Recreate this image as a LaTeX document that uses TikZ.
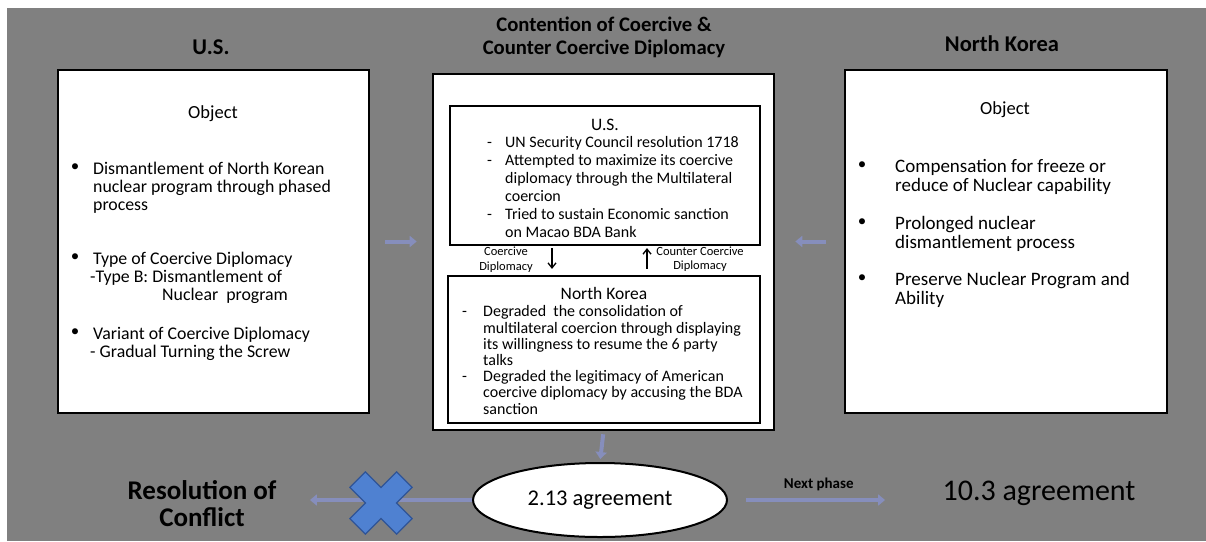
\documentclass[tikz,border=0pt]{standalone}
\usepackage{fontspec}
\setmainfont{Carlito}
\usetikzlibrary{shapes.geometric,arrows.meta}
\definecolor{slide}{RGB}{128,128,128}
\definecolor{faint}{RGB}{134,142,188}
\definecolor{swap}{RGB}{100,150,210}
\definecolor{nope}{RGB}{79,129,209}
\definecolor{nopeline}{RGB}{48,84,150}
\tikzstyle{panel}=[draw, line width=2.6pt, fill=white, inner sep=0pt]
\tikzstyle{movebox}=[draw, line width=2.2pt, fill=white, inner sep=0pt]
\tikzstyle{banner}=[font=\bfseries\fontsize{22.5}{31}\selectfont, align=center]
\tikzstyle{objtext}=[anchor=north west, align=left, inner sep=0pt, font=\fontsize{17.8}{18.2}\selectfont]
\tikzstyle{nkobjtext}=[anchor=north west, align=left, inner sep=0pt, font=\fontsize{19}{19}\selectfont]
\tikzstyle{movetext}=[anchor=north west, align=left, inner sep=0pt, font=\fontsize{16}{18}\selectfont]
\tikzstyle{nktext}=[anchor=north west, align=left, inner sep=0pt, font=\fontsize{16}{16.2}\selectfont]
\tikzstyle{smalltext}=[align=center, inner sep=0pt, font=\fontsize{12.5}{14.5}\selectfont]
\tikzstyle{bul}=[inner sep=0pt, font=\fontsize{17}{18}\selectfont]
\tikzstyle{flow}=[-{Triangle[length=7pt,width=11pt]}, line width=4pt, faint]
\tikzstyle{volley}=[-{Straight Barb[length=5pt,width=8pt]}, line width=1.3pt, swap]

\begin{document}
\begin{tikzpicture}[x=1pt,y=-1pt]
\useasboundingbox (0,0) rectangle (1206,541);
\fill[slide] (7,8) rectangle (1206,541);

\draw (211,47) node[banner] (usT) {U.S.};
\draw (1002,44) node[banner] (nkT) {North Korea};
\draw (604,37.5) node[banner, font=\bfseries\fontsize{20.7}{23}\selectfont] (midT) {Contention of Coercive \&\\Counter Coercive Diplomacy};

\draw (213.5,241.5) node[panel, minimum width=311pt, minimum height=343pt] (usObj) {};
\draw (1006,241.5) node[panel, minimum width=322pt, minimum height=343pt] (nkObj) {};
\draw (603.5,252) node[panel, minimum width=341pt, minimum height=356pt] (arena) {};
\draw (605,175.5) node[movebox, minimum width=310pt, minimum height=139pt] (usMove) {};
\draw (604,349.5) node[movebox, minimum width=312pt, minimum height=147pt] (nkMove) {};

\draw (213,114) node[font=\fontsize{18.5}{18}\selectfont] (usObjT) {Object};
\draw (75,168) node[bul] (usB1) {\textbullet};
\draw (75,258) node[bul] (usB2) {\textbullet};
\draw (75,333) node[bul] (usB3) {\textbullet};
\draw (93,161.5) node[objtext] (usI1) {Dismantlement of North Korean\\nuclear program through phased\\process};
\draw (93,251.5) node[objtext] (usI2) {Type of Coercive Diplomacy\\\hspace*{-3pt}-Type B: Dismantlement of\\\hspace*{69pt}Nuclear\ \ program};
\draw (93,326.5) node[objtext] (usI3) {Variant of Coercive Diplomacy\\\hspace*{-3pt}- Gradual Turning the Screw};

\draw (1005,110) node[font=\fontsize{18.5}{18}\selectfont] (nkObjT) {Object};
\draw (862,166) node[bul] (nkB1) {\textbullet};
\draw (862,223) node[bul] (nkB2) {\textbullet};
\draw (862,279) node[bul] (nkB3) {\textbullet};
\draw (895,159.5) node[nkobjtext] (nkI1) {Compensation for freeze or\\reduce of Nuclear capability};
\draw (895,216.5) node[nkobjtext] (nkI2) {Prolonged nuclear\\dismantlement process};
\draw (895,272.5) node[nkobjtext] (nkI3) {Preserve Nuclear Program and\\Ability};

\draw (605,125) node[font=\fontsize{17.5}{18}\selectfont] (usMoveT) {U.S.};
\draw (487,136.5) node[movetext] (usMoveI) {\makebox[18pt][l]{-}UN Security Council resolution 1718\\\makebox[18pt][l]{-}Attempted to maximize its coercive\\\hspace*{18pt}diplomacy through the Multilateral\\\hspace*{18pt}coercion\\\makebox[18pt][l]{-}Tried to sustain Economic sanction\\\hspace*{18pt}on Macao BDA Bank};

\draw (604,293) node[font=\fontsize{17.5}{18}\selectfont] (nkMoveT) {North Korea};
\draw (462,305.5) node[nktext] (nkMoveI) {\makebox[21pt][l]{-}Degraded\ \ the consolidation of\\\hspace*{21pt}multilateral coercion through displaying\\\hspace*{21pt}its willingness to resume the 6 party\\\hspace*{21pt}talks\\\makebox[21pt][l]{-}Degraded the legitimacy of American\\\hspace*{21pt}coercive diplomacy by accusing the BDA\\\hspace*{21pt}sanction};

\draw (506,259.5) node[smalltext] (cdT) {Coercive\\Diplomacy};
\draw (700,259) node[smalltext] (ccdT) {Counter Coercive\\Diplomacy};
\draw[volley, shorten <=2pt, shorten >=6pt] (usMove.south -| 552,0) -- (nkMove.north -| 552,0);
\draw[volley, shorten <=6pt, shorten >=2pt] (nkMove.north -| 647,0) -- (usMove.south -| 647,0);

\draw (600,500) node[ellipse, draw, line width=2pt, fill=white, minimum width=254pt, minimum height=74pt, inner sep=0pt, font=\fontsize{22.5}{24}\selectfont] (deal) {2.13 agreement};
\draw (202,503.5) node[align=center, font=\bfseries\fontsize{27}{27}\selectfont] (endT) {Resolution of\\Conflict};
\draw (1039,493) node[font=\fontsize{30}{30}\selectfont] (nextDeal) {10.3 agreement};

\draw[flow, shorten <=15pt, shorten >=15pt] (usObj.east) -- (usObj.east -| arena.west);
\draw[flow, shorten <=18pt, shorten >=20pt] (nkObj.west) -- (nkObj.west -| arena.east);
\draw[flow, shorten <=3pt, shorten >=3pt] (arena.south) -- (deal.north);
\draw[flow, shorten >=30pt] (deal.west) -- (deal.west -| endT.east);
\draw[flow, shorten <=18pt, shorten >=54pt] (deal.east) -- node[pos=0.43, above=4pt, font=\bfseries\fontsize{15}{15}\selectfont, black] (phaseT) {Next phase} (deal.east -| nextDeal.west);

\draw[fill=nope, draw=nopeline, line width=1.2pt, shift={(381,503)}, rotate=45] (11,11) -- (11,33) -- (-11,33) -- (-11,11) -- (-33,11) -- (-33,-11) -- (-11,-11) -- (-11,-33) -- (11,-33) -- (11,-11) -- (33,-11) -- (33,11) -- cycle;
\end{tikzpicture}
\end{document}
